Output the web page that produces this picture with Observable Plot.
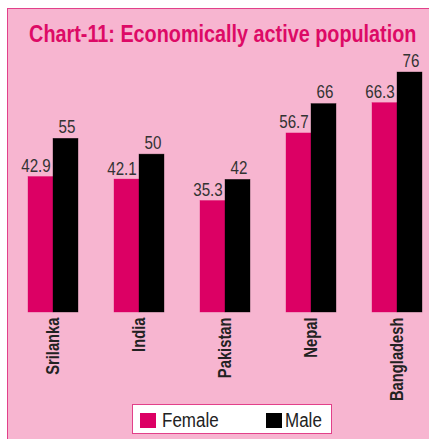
<!DOCTYPE html>
<html><head><meta charset="utf-8">
<script src="https://cdn.jsdelivr.net/npm/d3@7"></script>
<script src="https://cdn.jsdelivr.net/npm/@observablehq/plot@0.6"></script>
<style>
body{margin:0;background:#fff;width:429px;height:439px;overflow:hidden;position:relative;font-family:"Liberation Sans",Arial,sans-serif;}
#panel{position:absolute;left:7px;top:8px;width:440px;height:450px;background:#f7b5d0;border-left:1.5px solid #e2408a;border-top:1.5px solid #e2408a;}
#title{position:absolute;left:-77.5px;top:22px;width:600px;text-align:center;white-space:nowrap;}
#title span{display:inline-block;font-weight:bold;font-size:24px;line-height:23.5px;color:#dd0a66;transform:scaleX(0.825);transform-origin:center;}
#chart{position:absolute;left:0;top:50px;}
#legend{position:absolute;left:132px;top:404px;width:198px;height:28px;background:#fff;border:1.5px solid #e2408a;}
#legend .sw{position:absolute;top:8px;width:16px;height:15px;}
#legend .lb{position:absolute;top:4px;font-size:20px;line-height:22px;color:#222;transform:scaleX(0.85);transform-origin:left;}
</style></head>
<body>
<div id="panel"></div>
<div id="title"><span>Chart-11: Economically active population</span></div>
<div id="chart"></div>
<div id="legend">
  <div class="sw" style="left:7px;background:#dc0064"></div><div class="lb" style="left:29px">Female</div>
  <div class="sw" style="left:133px;background:#000"></div><div class="lb" style="left:152px">Male</div>
</div>
<script>
const countries = ["Srilanka","India","Pakistan","Nepal","Bangladesh"];
const female = [42.9, 42.1, 35.3, 56.7, 66.3];
const male = [55, 50, 42, 66, 76];
const seriesNames = ["Female","Male"];
const seriesColors = ["#dc0064","#000000"];

const rows = [];
countries.forEach((c, i) => {
  rows.push({country: c, sex: "Female", value: female[i]});
  rows.push({country: c, sex: "Male", value: male[i]});
});

const font = "'Liberation Sans',Arial,sans-serif";
const chart = Plot.plot({
  width: 429,
  height: 355,
  marginLeft: 20,
  marginRight: 0,
  marginTop: 22,
  marginBottom: 93,
  style: {background: "transparent", fontFamily: font, overflow: "visible"},
  fx: {domain: countries, paddingInner: 0.41, paddingOuter: 0.075, axis: null},
  x: {domain: seriesNames, padding: 0, axis: null},
  y: {domain: [0, 76], axis: null},
  color: {domain: seriesNames, range: seriesColors},
  marks: [
    Plot.barY(rows, {fx: "country", x: "sex", y: "value", fill: "sex", stroke: "sex", strokeOpacity: 0.6, strokeWidth: 0.6, insetLeft: 0, insetRight: 0}),
    Plot.text(rows.filter(d => d.sex === "Female"), {fx: "country", x: "sex", y: "value", text: d => String(d.value), dx: -5, dy: -5, lineAnchor: "bottom", fontSize: 18.5, fill: "#333"}),
    Plot.text(rows.filter(d => d.sex === "Male"), {fx: "country", x: "sex", y: "value", text: d => String(d.value), dx: 1, dy: -6, lineAnchor: "bottom", fontSize: 18.5, fill: "#333"}),
    Plot.text(countries, {fx: d => d, y: () => 0, frameAnchor: "middle", text: d => d, rotate: -90, textAnchor: "end", lineAnchor: "middle", dy: 5, fontSize: 18, fontWeight: "bold", fill: "#222"})
  ]
});
// horizontally condense the text glyphs (narrow typeface look)
d3.select(chart).selectAll("text").each(function() {
  const t = this.getAttribute("transform");
  if (t) this.setAttribute("transform", t + " scale(0.82,1)");
});
document.getElementById("chart").appendChild(chart);
</script>
</body></html>
